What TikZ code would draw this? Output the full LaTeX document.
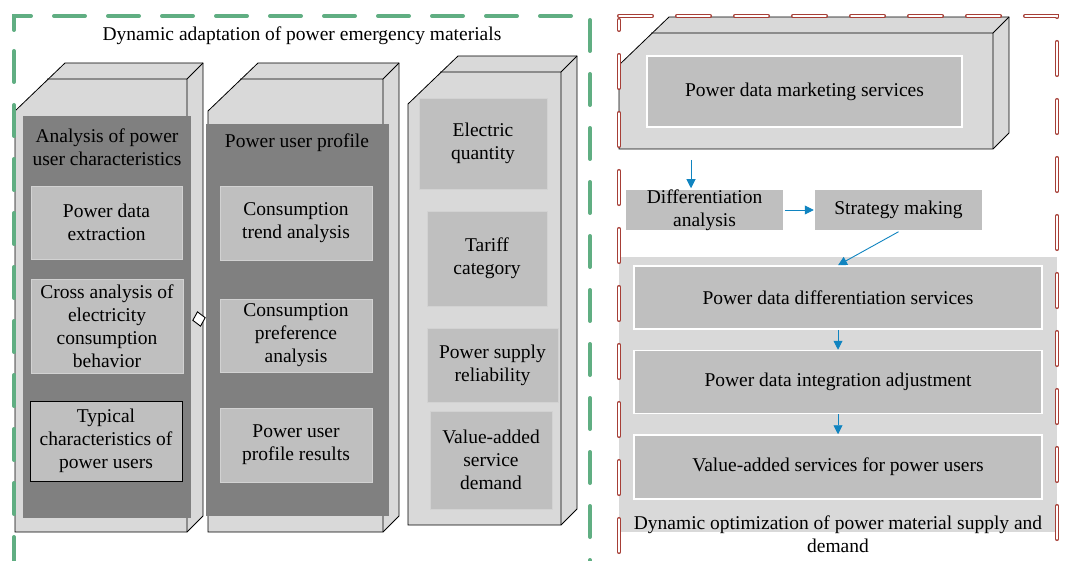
\documentclass[tikz,border=0pt]{standalone}
\usepackage{fontspec}
\setmainfont{Liberation Serif}
\usetikzlibrary{arrows.meta, positioning, shapes.geometric, calc}
\definecolor{facegray}{RGB}{217,217,217}
\definecolor{panelgray}{RGB}{128,128,128}
\definecolor{cellgray}{RGB}{191,191,191}
\definecolor{adaptgreen}{RGB}{96,174,130}
\definecolor{optred}{RGB}{166,62,54}
\definecolor{flowblue}{RGB}{16,132,192}

% bevelled 3-D slab: front face (#1,#2)-(#3,#4), depth 16
\newcommand{\slab}[4]{%
  \filldraw[fill=facegray, draw=black, line width=0.8pt]
    (#1,#2+32) -- (#1+50,#2-16) -- (#3+16,#2-16) -- (#3+16,#4-16) -- (#3,#4) -- (#1,#4) -- cycle;
  \draw[line width=0.8pt] (#1+32,#2) -- (#3,#2) -- (#3+16,#2-16) (#3,#2) -- (#3,#4);}

\begin{document}
\begin{tikzpicture}[x=1pt, y=-1pt,
    txt/.style={font=\fontsize{19.5}{23}\selectfont, align=center},
    sz/.style 2 args={minimum width=#1pt, minimum height=#2pt},
    cell/.style={txt, fill=cellgray, draw=cellgray!70!white, inner sep=0pt},
    wcell/.style={cell, draw=white, line width=1.5pt},
    panel/.style={fill=panelgray, inner sep=0pt},
    arr/.style={-{Triangle[length=9pt, width=9pt]}, flowblue, line width=0.9pt},
    adaptframe/.style={adaptgreen, line width=4pt, line cap=round, dash pattern=on 31pt off 23pt},
    optframe/.style={draw=optred, double=white, double distance=1.3pt, line width=1.4pt,
      line cap=round, dash pattern=on 33pt off 25pt}
  ]
  \path[use as bounding box, clip] (0,0) rectangle (1067,561);

  % left part: user characteristics
  \node[txt] (adapttitle) at (302,36) {Dynamic adaptation of power emergency materials};
  \slab{15}{79}{187}{532}
  \slab{208}{79}{383}{532}
  \slab{408}{72}{561}{525}

  \node[panel, sz={168}{402}] (charpanel) at (107,317) {};
  \node[txt] (chartitle) at (107,147) {Analysis of power\\user characteristics};
  \node[cell, sz={151}{73}] (extract) at (106.5,222.5) {Power data\\extraction};
  \node[cell, sz={152}{94}] (cross) at (107,326) {Cross analysis of\\electricity\\consumption\\behavior};
  \node[cell, draw=black, line width=0.8pt, sz={152}{80}] (typical) at (106,441) {Typical\\characteristics of\\power users};

  \node[panel, sz={183}{392}] (profpanel) at (297.5,320) {};
  \node[txt] (proftitle) at (297,143) {Power user profile};
  \node[cell, sz={152}{74}] (trend) at (296,223) {Consumption\\trend analysis};
  \node[cell, sz={152}{73}] (pref) at (296,335.5) {Consumption\\preference\\analysis};
  \node[cell, sz={152}{74}] (result) at (296,445) {Power user\\profile results};

  \node[cell, sz={128}{91}] (quantity) at (483,143.5) {Electric\\quantity};
  \node[cell, sz={120}{95}] (tariff) at (487,258.5) {Tariff\\category};
  \node[cell, sz={131}{74}] (reliab) at (492.5,365) {Power supply\\reliability};
  \node[cell, sz={122}{98}] (demand) at (491,460) {Value-added\\service\\demand};

  \node[diamond, draw, fill=white, inner sep=0pt, minimum width=13pt, minimum height=15pt,
    line width=0.9pt, rotate=12] (link) at (199,319) {};

  % right part: supply and demand
  \slab{619}{33}{993}{149}
  \node[wcell, sz={315}{71}] (marketing) at (804.5,91.5) {Power data marketing services};
  \coordinate (mktout) at (691,160);
  \node[wcell, sz={159}{42}] (diffana) at (704.5,210) {Differentiation\\analysis};
  \node[wcell, sz={168}{42}, right=29pt of diffana] (strategy) {Strategy making};

  \node[fill=facegray, inner sep=0pt, sz={438}{275}] (optpanel) at (838,394.5) {};
  \node[wcell, sz={408}{63}] (diffsvc) at (838,297.5) {Power data differentiation services};
  \node[wcell, sz={408}{63}, below=20pt of diffsvc] (integ) {Power data integration adjustment};
  \node[wcell, sz={408}{64}, below=20pt of integ] (valsvc) {Value-added services for power users};
  \node[txt] (opttitle) at (838,534) {Dynamic optimization of power material supply and\\demand};

  \draw[arr] (mktout) -- (mktout |- diffana.north);
  \draw[arr] (diffana) -- (strategy);
  \draw[arr] (strategy.south) -- (diffsvc.north);
  \draw[arr] (diffsvc) -- (integ);
  \draw[arr] (integ) -- (valsvc);

  % dashed frames
  \draw[adaptframe] (14,30) -- (14,16) -- (590,16) -- (590,600) -- (14,600) -- cycle;
  \draw[optframe] (619,16) -- (1057,16) -- (1057,600) -- (619,600) -- (619,20);
\end{tikzpicture}
\end{document}
